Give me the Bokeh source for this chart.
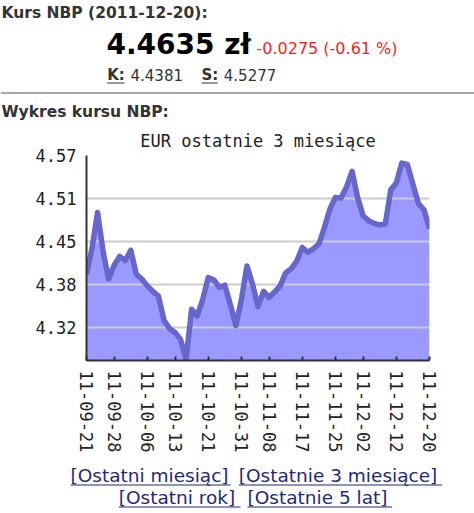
import math
from bokeh.plotting import figure
from bokeh.layouts import column
from bokeh.models import Range1d, FixedTicker
from bokeh.core.properties import value
from bokeh.embed import file_html
from bokeh.resources import INLINE

# ---------------- data ----------------
dates = [
    "11-09-21", "11-09-22", "11-09-23", "11-09-26", "11-09-27", "11-09-28", "11-09-29", "11-09-30",
    "11-10-03", "11-10-04", "11-10-05", "11-10-06", "11-10-07",
    "11-10-10", "11-10-11", "11-10-12", "11-10-13", "11-10-14",
    "11-10-17", "11-10-18", "11-10-19", "11-10-20", "11-10-21",
    "11-10-24", "11-10-25", "11-10-26", "11-10-27", "11-10-28", "11-10-31",
    "11-11-02", "11-11-03", "11-11-04",
    "11-11-07", "11-11-08", "11-11-09", "11-11-10",
    "11-11-14", "11-11-15", "11-11-16", "11-11-17", "11-11-18",
    "11-11-21", "11-11-22", "11-11-23", "11-11-24", "11-11-25",
    "11-11-28", "11-11-29", "11-11-30", "11-12-01", "11-12-02",
    "11-12-05", "11-12-06", "11-12-07", "11-12-08", "11-12-09",
    "11-12-12", "11-12-13", "11-12-14", "11-12-15", "11-12-16",
    "11-12-19", "11-12-20",
]
rates = [
    4.397, 4.435, 4.487, 4.430, 4.390, 4.410, 4.423, 4.417,
    4.432, 4.397, 4.390, 4.380, 4.372,
    4.365, 4.330, 4.318, 4.312, 4.302,
    4.273, 4.346, 4.336, 4.360, 4.392,
    4.389, 4.378, 4.381, 4.353, 4.322, 4.360,
    4.409, 4.383, 4.350,
    4.372, 4.363, 4.371, 4.380,
    4.399, 4.405, 4.416, 4.436, 4.429,
    4.434, 4.441, 4.465, 4.492, 4.509,
    4.508, 4.524, 4.547, 4.509, 4.482,
    4.475, 4.471, 4.469, 4.470, 4.520,
    4.530, 4.559, 4.557, 4.528, 4.500,
    4.491, 4.4635,
]
x_tick_dates = ["11-09-21", "11-09-28", "11-10-06", "11-10-13", "11-10-21", "11-10-31",
                "11-11-08", "11-11-17", "11-11-25", "11-12-02", "11-12-12", "11-12-20"]
y_ticks = [4.32, 4.3825, 4.445, 4.5075, 4.57]
y_tick_labels = ["4.32", "4.38", "4.45", "4.51", "4.57"]
y_floor = 4.2713

title_text = "EUR ostatnie 3 miesiące"
header_title = "Kurs NBP (2011-12-20):"
rate_text = "4.4635 zł"
change_text = "-0.0275 (-0.61 %)"
buy_label, buy_value = "K:", "4.4381"
sell_label, sell_value = "S:", "4.5277"
section_text = "Wykres kursu NBP:"
links_row1 = ["[Ostatni miesiąc]", "[Ostatnie 3 miesiące]"]
links_row2 = ["[Ostatni rok]", "[Ostatnie 5 lat]"]

W = 474
SANS = value("DejaVu Sans")


def blank(height, y0, y1):
    f = figure(width=W, height=height, x_range=Range1d(0, W), y_range=Range1d(y1, y0),
               output_backend="svg", toolbar_location=None, min_border=0,
               x_axis_location=None, y_axis_location=None, title=None,
               frame_align=False)
    f.grid.visible = False
    f.outline_line_color = None
    return f


# ---------------- header (0..120 px) ----------------
head = blank(120, 0, 120)
head.text(x=[1], y=[12.7], text=[header_title], text_font=SANS, text_font_style="bold",
          text_font_size="15.5px", text_color="#333333", text_baseline="middle")
head.text(x=[106], y=[44], text=[rate_text], text_font=SANS, text_font_style="bold",
          text_font_size="28px", text_color="#000000", text_baseline="middle")
head.text(x=[256], y=[48.2], text=[change_text], text_font=SANS,
          text_font_size="16px", text_color="#ff1a1a", text_baseline="middle")
head.text(x=[106.7, 201], y=[74.6, 74.6], text=[buy_label, sell_label], text_font=SANS,
          text_font_style="bold", text_font_size="15px", text_color="#333333",
          text_baseline="middle")
head.text(x=[130, 223.3], y=[74.6, 74.6], text=[buy_value, sell_value], text_font=SANS,
          text_font_size="15px", text_color="#333333", text_baseline="middle")
head.segment(x0=[106.7, 201], y0=[82.5, 82.5], x1=[124, 217.3], y1=[82.5, 82.5],
             line_color="#333333", line_width=1.2)
head.segment(x0=[0], y0=[92.5], x1=[W], y1=[92.5], line_color="#a8a8a8", line_width=2)
head.text(x=[1], y=[111.9], text=[section_text], text_font=SANS, text_font_style="bold",
          text_font_size="15.5px", text_color="#333333", text_baseline="middle")

# ---------------- chart (120..458 px) ----------------
xs = list(range(len(rates)))
tick_idx = [dates.index(d) for d in x_tick_dates]

p = figure(width=W, height=338, x_range=Range1d(0, len(rates) - 1),
           y_range=Range1d(y_floor, y_ticks[-1]), output_backend="svg",
           toolbar_location=None, title=title_text, frame_align=False,
           min_border_left=86, min_border_right=45, min_border_top=35, min_border_bottom=98)
p.outline_line_color = None
p.title.align = "center"
p.title.offset = -3
p.title.text_font = "DejaVu Sans Mono"
p.title.text_font_size = "17px"
p.title.text_font_style = "normal"
p.title.text_color = "#222222"
p.title.standoff = 10

p.varea(x=xs, y1=y_floor, y2=rates, fill_color="#9999ff", level="image")
p.line(xs, rates, line_color="#6666cc", line_width=5.5, line_join="round")

p.xgrid.visible = False
p.ygrid.ticker = FixedTicker(ticks=y_ticks[:-1])
p.ygrid.grid_line_color = "#cccccc"
p.ygrid.grid_line_width = 2

for ax in (p.xaxis[0], p.yaxis[0]):
    ax.axis_line_color = "#333333"
    ax.axis_line_width = 2
    ax.major_label_text_font = "DejaVu Sans Mono"
    ax.major_label_text_font_size = "17px"
    ax.major_label_text_color = "#222222"
    ax.minor_tick_line_color = None
    ax.major_tick_line_color = "#333333"
    ax.major_tick_line_width = 2

p.yaxis.ticker = FixedTicker(ticks=y_ticks)
p.yaxis.major_label_overrides = {t: l for t, l in zip(y_ticks, y_tick_labels)}
p.yaxis.major_tick_in = 0
p.yaxis.major_tick_out = 0
p.yaxis.major_label_standoff = 10

p.xaxis.ticker = FixedTicker(ticks=tick_idx)
p.xaxis.major_label_overrides = {i: d for i, d in zip(tick_idx, x_tick_dates)}
p.xaxis.major_label_orientation = "vertical"
p.xaxis.major_tick_in = 4
p.xaxis.major_tick_out = 0
p.xaxis.major_label_standoff = 10

# ---------------- footer (458..513 px) ----------------
foot = blank(55, 458, 513)
LINK = "#1f2a7a"
foot.text(x=[70, 238.3], y=[474.8, 474.8], text=links_row1, text_font=SANS,
          text_font_size="18.5px", text_color=LINK, text_baseline="middle")
foot.text(x=[118.3, 247], y=[497.3, 497.3], text=links_row2, text_font=SANS,
          text_font_size="18.5px", text_color=LINK, text_baseline="middle")
foot.segment(x0=[70, 238.3, 118.3, 247], y0=[484.5, 484.5, 506.5, 506.5],
             x1=[230, 441.7, 240, 391.7], y1=[484.5, 484.5, 506.5, 506.5],
             line_color=LINK, line_width=1.2)

page = column(head, p, foot, spacing=0)

open("out.html", "w").write(file_html(page, INLINE))
